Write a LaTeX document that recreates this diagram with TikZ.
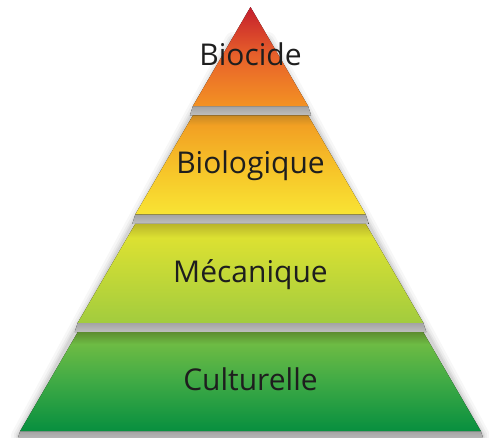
\documentclass[tikz,border=0pt]{standalone}
\usepackage{fontspec}
\setmainfont{Open Sans}
\usetikzlibrary{calc}
\definecolor{rouge}{HTML}{C41E2D}
\definecolor{orangeclair}{HTML}{E8622A}
\definecolor{orangefonce}{HTML}{F39223}
\definecolor{orangeombre}{HTML}{C98A24}
\definecolor{orangehaut}{HTML}{F2A023}
\definecolor{jaunemoyen}{HTML}{F7C82A}
\definecolor{jaune}{HTML}{F8E434}
\definecolor{oliveombre}{HTML}{B9B52A}
\definecolor{jaunevert}{HTML}{DCE132}
\definecolor{vertclair}{HTML}{A2CC3E}
\definecolor{vertombre}{HTML}{5E8E30}
\definecolor{verthaut}{HTML}{6DBB44}
\definecolor{vertmoyen}{HTML}{3FAA45}
\definecolor{vertfonce}{HTML}{078F3F}
\definecolor{texte}{HTML}{1E1E1E}
\pgfdeclareverticalshading{biocide}{100bp}{color(0bp)=(orangefonce); color(25bp)=(orangefonce);
  color(50bp)=(orangeclair); color(75bp)=(rouge); color(100bp)=(rouge)}
\pgfdeclareverticalshading{biologique}{100bp}{color(0bp)=(jaune); color(25bp)=(jaune);
  color(45bp)=(jaunemoyen); color(70bp)=(orangehaut); color(75bp)=(orangeombre); color(100bp)=(orangeombre)}
\pgfdeclareverticalshading{mecanique}{100bp}{color(0bp)=(vertclair); color(25bp)=(vertclair);
  color(68bp)=(jaunevert); color(75bp)=(oliveombre); color(100bp)=(oliveombre)}
\pgfdeclareverticalshading{culturelle}{100bp}{color(0bp)=(vertfonce); color(25bp)=(vertfonce);
  color(50bp)=(vertmoyen); color(69bp)=(verthaut); color(75bp)=(vertombre); color(100bp)=(vertombre)}
\tikzset{
ombre/.style={top color=gray!72, bottom color=gray!50},
halo/.style={line join=round, line cap=round, black},
titre/.style={anchor=base, text=texte, font=\fontsize{30}{30}\selectfont}}

\begin{document}
\begin{tikzpicture}[x=1pt,y=-1pt]
\useasboundingbox (0,0) rectangle (489,437);
% soft shadow along the sides
\foreach \w/\o in {16/0.03,11/0.04,7/0.05,4/0.06}
  \draw[halo, line width=\w pt, opacity=\o] (19,436) -- (233,40) (268,40) -- (482,436);

\foreach \k/\nom/\txt in {1/biocide/Biocide, 2/biologique/Biologique,
                          3/mecanique/Mécanique, 4/culturelle/Culturelle} {
  \pgfmathsetmacro\t{7+108.4*(\k-1)}
  \pgfmathsetmacro\b{\t+99}
  \pgfmathsetmacro\wt{57.6*(\k-1)}
  \pgfmathsetmacro\wb{57.6*\k}
  \fill[ombre] (250.5-\wb,\b) -- (250.5+\wb,\b) -- (250.5+\wb+3,\b+9.4)
    -- (250.5-\wb-3,\b+9.4) -- cycle;
  \fill[shading=\nom] (250.5-\wt,\t) -- (250.5+\wt,\t) -- (250.5+\wb,\b)
    -- (250.5-\wb,\b) -- cycle;
  \node[titre] (\nom) at (250.5,\b-40.5) {\txt};
}
\end{tikzpicture}
\end{document}
